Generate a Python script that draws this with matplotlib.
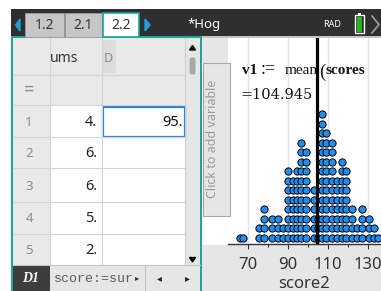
import matplotlib

matplotlib.use("Agg")
import matplotlib.pyplot as plt
from matplotlib.patches import Rectangle, Polygon, FancyBboxPatch
from matplotlib.lines import Line2D

W, H = 381, 291

TAB_LABELS = ["1.2", "2.1", "2.2"]
DOC_TITLE = "*Hog"
MODE_LABEL = "RAD"
COLUMN_A_HEADER = "ums"
COLUMN_B_HEADER = "D"
ROW_NUMBERS = ["1", "2", "3", "4", "5"]
COLUMN_A_VALUES = ["4.", "6.", "6.", "5.", "2."]
CELL_B1 = "95."
FORMULA_CELL = "D1"
FORMULA_TEXT = "score:=sur"
ADD_VARIABLE = "Click to add variable"

# dot plot of score2: stack positions (value) and how many dots sit there
SCORE_VALUES = [66.25, 67.75, 75.75, 78.25, 82.0, 85.25, 87.75, 90.0, 92.75,
                94.75, 96.75, 99.25, 103.0, 105.25, 107.0, 109.25, 112.0,
                114.75, 117.0, 119.25, 122.0, 124.5, 127.0, 130.5, 133.0, 135.25]
SCORE_COUNTS = [1, 1, 2, 4, 3, 3, 2, 8, 7, 8, 11, 10, 6, 3, 14, 12, 11,
                7, 9, 8, 4, 2, 4, 3, 2, 1]
MEAN_SCORE = 104.945
MEAN_LABEL = "=104.945"
X_TICKS = [70, 90, 110, 130]
X_MINOR = [80, 100, 120]
X_LABEL = "score2"

TEAL = "#1ca59c"
ARROW = "#1f9fd6"
SHEET_GRAY = "#e9e9e9"
GRID = "#d5d5d5"
DOT = "#1e8ff5"

plt.rcParams["font.family"] = ["Noto Sans", "DejaVu Sans"]

fig = plt.figure(figsize=(W / 100, H / 100), dpi=100)
fig.patch.set_facecolor("white")
bg = fig.add_axes([0, 0, 1, 1])
bg.set_xlim(0, W)
bg.set_ylim(H, 0)
bg.axis("off")


def rect(x0, y0, x1, y1, color, ec="none", lw=0, top=False):
    r = Rectangle((x0, y0), x1 - x0, y1 - y0, facecolor=color, edgecolor=ec, lw=lw,
                  transform=bg.transData)
    if top:
        r.set_zorder(5)
        fig.add_artist(r)
    else:
        bg.add_patch(r)


def hline(y, x0, x1, color=GRID, lw=0.8):
    bg.add_line(Line2D([x0, x1], [y, y], color=color, lw=lw))


def vline(x, y0, y1, color=GRID, lw=0.8):
    bg.add_line(Line2D([x, x], [y0, y1], color=color, lw=lw))


def ftext(x, y, s, **kw):
    kw.setdefault("zorder", 6)
    fig.text(x / W, 1 - y / H, s, **kw)


# ---- top bar
rect(11, 9, W, 36, "#2f2f2f")
rect(11, 36, 201, 38, TEAL)
rect(201, 36, W, 38, "#c4c4c4")
bg.add_patch(Polygon([(15.5, 25), (20, 19), (20, 31)], closed=True, color=ARROW))
bg.add_patch(Polygon([(145, 19), (145, 31), (150, 25)], closed=True, color=ARROW))
tabs = [(25, 63.5), (64.5, 102), (103, 138.5)]
for (x0, x1), label in zip(tabs, TAB_LABELS):
    active = label == TAB_LABELS[-1]
    rect(x0, 13, x1, 36.5, "white" if active else "#c6c6c6",
         ec=TEAL if active else "#9c9c9c", lw=1.2 if active else 0.6)
    bg.text((x0 + x1) / 2, 25.5, label, ha="center", va="center", fontsize=10, color="#333333")
bg.text(187, 24.5, DOC_TITLE, ha="left", va="center", fontsize=9.5, color="white")
bg.text(323, 24.5, MODE_LABEL, ha="left", va="center", fontsize=6.5, color="white")
rect(358, 13, 361, 15, "white")
rect(355, 15, 364, 33, "#2f2f2f", ec="white", lw=1.0)
rect(356.8, 17, 362.2, 31.5, "#22b722")
bg.add_line(Line2D([372, 379, 372], [16, 24.5, 33], color="#9a9a9a", lw=1.3))

# ---- spreadsheet panel
rect(12.5, 38, 185, 105, SHEET_GRAY)
rect(101.7, 40, 116, 73, "#dcdcdc")
rect(12.5, 105, 49.5, 265, SHEET_GRAY)
rect(49.5, 105, 185, 265, "white")
rect(185, 38, 200, 265, "#e6e6e6")
for y in [75, 105, 137.3, 168.3, 201.7, 234.3]:
    hline(y, 12.5, 185)
vline(49.5, 38, 265)
vline(101.7, 38, 265)
vline(185, 38, 265, color="#cfcfcf")
bg.add_patch(Polygon([(189.5, 50), (195.5, 50), (192.5, 45.5)], closed=True, color="black"))
bg.add_patch(Polygon([(189.5, 257.5), (195.5, 257.5), (192.5, 262)], closed=True, color="black"))
bg.add_patch(FancyBboxPatch((189.5, 57.5), 6, 17, boxstyle="round,pad=0,rounding_size=2",
                            facecolor="#a9a9a9", edgecolor="none"))
bg.text(50, 59, COLUMN_A_HEADER, ha="left", va="center", fontsize=10, color="#333333")
bg.text(108.5, 58, COLUMN_B_HEADER, ha="center", va="center", fontsize=9, color="#8a8a8a")
bg.text(29, 90, "=", ha="center", va="center", fontsize=13, color="#8c8c8c")
row_tops = [105, 137.3, 168.3, 201.7, 234.3, 265]
for i, (num, val) in enumerate(zip(ROW_NUMBERS, COLUMN_A_VALUES)):
    yc = (row_tops[i] + row_tops[i + 1]) / 2 + 1
    bg.text(29, yc, num, ha="center", va="center", fontsize=9.5, color="#8c8c8c")
    bg.text(97, yc, val, ha="right", va="center", fontsize=10.5, color="#222222")
rect(102.5, 106.5, 184.5, 137, "none", ec="#2b7fd4", lw=1.6)
bg.text(183, 122, CELL_B1, ha="right", va="center", fontsize=10.5, fontweight="bold", color="#111111")

# formula bar
rect(12.5, 265, 200, H, "#e6e6e6")
hline(265, 12.5, 200, color="#c4c4c4")
rect(12.5, 265, 49.5, H, "#3d3d3d")
vline(145, 265, H, color="#c4c4c4")
bg.text(31, 279, FORMULA_CELL, ha="center", va="center", fontsize=10, color="white",
        family="Liberation Serif", style="italic", fontweight="bold")
bg.text(54, 279, FORMULA_TEXT, ha="left", va="center", fontsize=9.5, color="#5a5a5a",
        family="Liberation Mono")
bg.text(137, 277.5, "\u25b8", ha="center", va="center", fontsize=6, color="#333333", family="DejaVu Sans")
bg.text(159, 278, "\u25c2", ha="center", va="center", fontsize=7, color="#222222", family="DejaVu Sans")
bg.text(187, 278, "\u25b8", ha="center", va="center", fontsize=7, color="#222222", family="DejaVu Sans")

# panel borders
rect(11, 36, 12.5, H, TEAL)
rect(200, 36, 201.5, H, TEAL)

# ---- dot plot panel
rect(201.5, 38, W, 245, "white")
rect(201.5, 245, W, H, "#e6e6e6")
rect(201.5, 38, 227.5, 63, "#e6e6e6")
rect(203, 63, 230, 216, "#e6e6e6", ec="#a6a6a6", lw=0.8, top=True)
ftext(212, 139, ADD_VARIABLE, ha="center", va="center", rotation=90, fontsize=9, color="#9a9a9a")

ax = fig.add_axes([227.5 / W, (H - 244) / H, (W - 227.5) / W, (244 - 38) / H])
ax.set_facecolor("white")
xs, ys = [], []
for value, count in zip(SCORE_VALUES, SCORE_COUNTS):
    for level in range(count):
        xs.append(value)
        ys.append(level)
ax.scatter(xs, ys, s=27, color=DOT, edgecolor="black", linewidths=0.7, zorder=2, clip_on=False)
ax.axvline(MEAN_SCORE, color="black", lw=2.3, zorder=3)
ax.set_xlim(60, 136.75)
ax.set_ylim(-0.663, 21.02)
for side in ["top", "left", "right"]:
    ax.spines[side].set_visible(False)
ax.spines["bottom"].set_color("#333333")
ax.spines["bottom"].set_linewidth(1.0)
ax.set_yticks([])
ax.set_xticks(X_TICKS)
ax.set_xticks(X_MINOR, minor=True)
ax.tick_params(axis="x", which="major", length=3.6, width=0.8, color="#333333",
               labelsize=12, labelcolor="#333333", pad=5.5)
ax.tick_params(axis="x", which="minor", length=2, width=0.8, color="#333333")
ax.grid(axis="x", which="major", color="#e2e2e2", lw=1.0)
ax.set_axisbelow(True)
ax.set_xlabel(X_LABEL, fontsize=12, color="#333333", labelpad=2.5)

# mean annotation
serif = "Liberation Serif"
ftext(241.5, 74.5, "v1", fontsize=11, family=serif, fontweight="bold", va="baseline", color="#111111")
ftext(261, 74.5, ":=", fontsize=13, family=serif, va="baseline", color="#111111")
ftext(284.5, 74.5, "mean", fontsize=11, family=serif, va="baseline", color="#111111")
ftext(319.5, 76.5, "(", fontsize=13.5, family=serif, va="baseline", color="#111111")
ftext(325, 74.5, "scores", fontsize=11, family=serif, fontweight="bold", va="baseline", color="#111111")
ftext(241, 99.3, MEAN_LABEL, fontsize=10.5, family="DejaVu Serif", va="baseline", color="#111111")

fig.savefig("out.png", dpi=100)
